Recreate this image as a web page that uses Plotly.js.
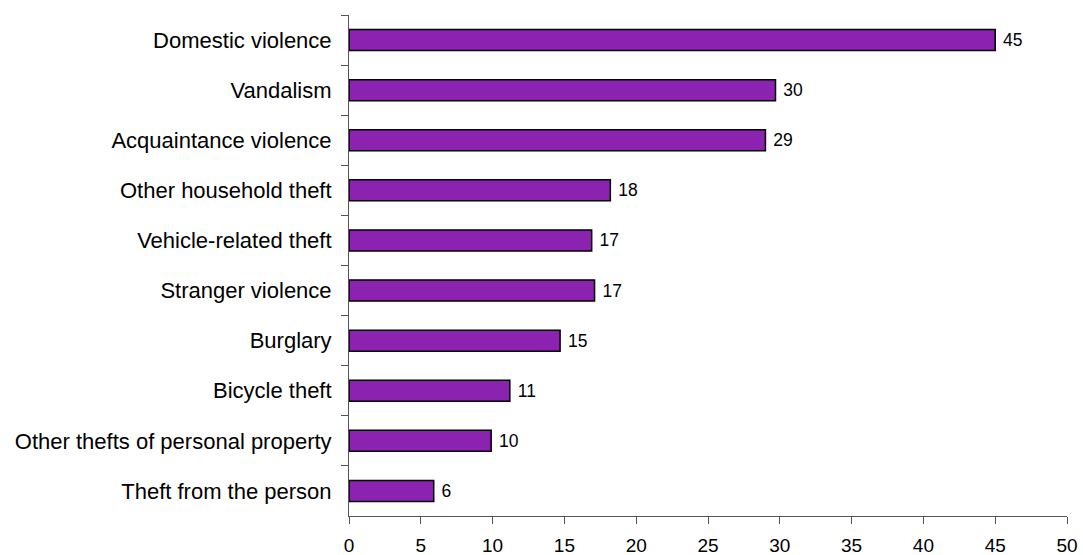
<!DOCTYPE html>
<html>
<head>
<meta charset="utf-8">
<script src="https://cdn.plot.ly/plotly-3.0.1.min.js"></script>
<style>
html,body{margin:0;padding:0;background:#fff;}
#chart{width:1083px;height:555px;}
</style>
</head>
<body>
<div id="chart"></div>
<script>
const categories = [
  "Domestic violence",
  "Vandalism",
  "Acquaintance violence",
  "Other household theft",
  "Vehicle-related theft",
  "Stranger violence",
  "Burglary",
  "Bicycle theft",
  "Other thefts of personal property",
  "Theft from the person"
];
const values = [45.0, 29.7, 29.0, 18.2, 16.9, 17.1, 14.7, 11.2, 9.9, 5.9];
const xTickValues = [0, 5, 10, 15, 20, 25, 30, 35, 40, 45, 50];

const trace = {
  type: "bar",
  orientation: "h",
  y: categories,
  x: values,
  marker: { color: "#8C22B0", line: { color: "#000000", width: 1.5 } },
  texttemplate: "\u00a0%{x:.0f}",
  textposition: "outside",
  textfont: { family: "Liberation Sans, Arial, sans-serif", size: 17.5, color: "#000" },
  cliponaxis: false,
  hoverinfo: "none"
};

const layout = {
  width: 1083,
  height: 555,
  margin: { l: 349, r: 16, t: 15, b: 39 },
  paper_bgcolor: "#fff",
  plot_bgcolor: "#fff",
  showlegend: false,
  bargap: 0.58,
  font: { family: "Liberation Sans, Arial, sans-serif", color: "#000" },
  xaxis: {
    range: [0, 50],
    tickvals: xTickValues,
    ticktext: xTickValues.map(String),
    ticks: "outside",
    ticklen: 7,
    tickwidth: 1,
    tickcolor: "#555",
    showline: true,
    linecolor: "#555",
    linewidth: 1,
    showgrid: false,
    zeroline: false,
    tickfont: { size: 19, color: "#000" },
    ticklabelstandoff: 5
  },
  yaxis: {
    type: "category",
    autorange: "reversed",
    ticks: "outside",
    tickson: "boundaries",
    ticklen: 7,
    tickwidth: 1,
    tickcolor: "#555",
    showline: true,
    linecolor: "#555",
    linewidth: 1,
    showgrid: false,
    zeroline: false,
    tickfont: { size: 22, color: "#000" },
    ticklabelstandoff: 12
  }
};

Plotly.newPlot("chart", [trace], layout, { displayModeBar: false, staticPlot: true });
</script>
</body>
</html>
